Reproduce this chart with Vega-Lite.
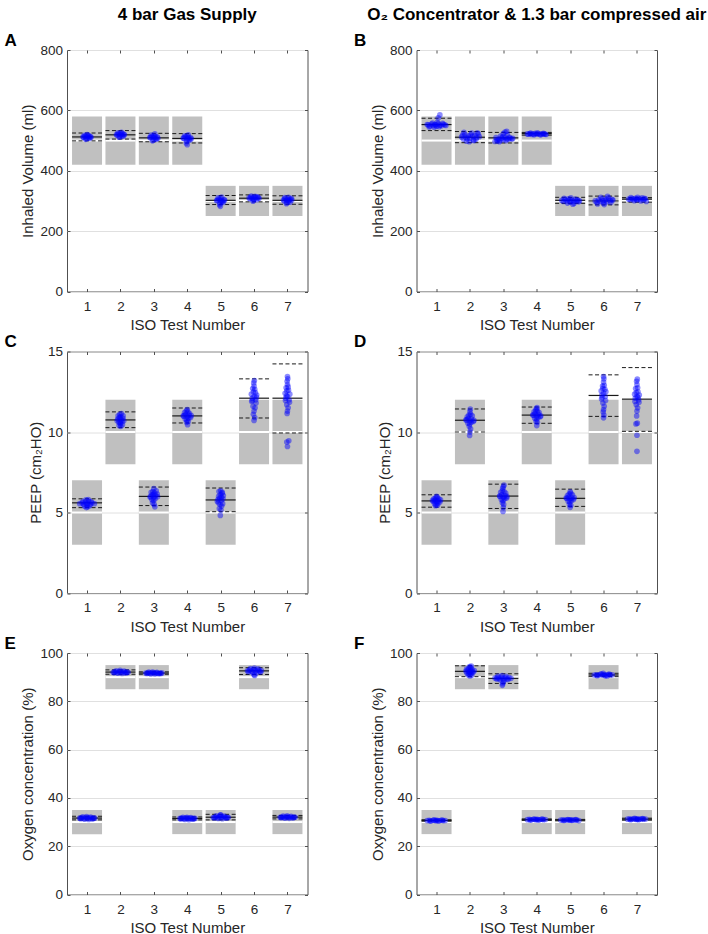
{
"$schema": "https://vega.github.io/schema/vega-lite/v6.json",
"padding": {"left": 3, "top": 5, "right": 0, "bottom": 4},
"background": "white",
"config": {
  "font": "Liberation Sans",
  "view": {"stroke": "#505050", "strokeWidth": 1},
  "axis": {"domain": false, "labelFont": "Liberation Sans", "labelFontSize": 13.5, "labelColor": "#262626", "titleFont": "Liberation Sans", "titleFontSize": 15, "titleFontWeight": "normal", "titleColor": "#262626", "tickColor": "#505050", "tickSize": -3, "gridColor": "#e0e0e0", "gridWidth": 1},
  "axisX": {"grid": false, "labelPadding": 10.5, "titlePadding": 5},
  "axisY": {"grid": true, "labelPadding": 7.5, "titlePadding": 4},
  "title": {"font": "Liberation Sans", "fontWeight": "bold", "color": "#000000"}
},
"datasets": {
  "sA": [
    {"k":"b","t":1,"y":420,"y2":580},{"k":"b","t":2,"y":420,"y2":580},{"k":"b","t":3,"y":420,"y2":580},{"k":"b","t":4,"y":420,"y2":580},{"k":"b","t":5,"y":250,"y2":350},{"k":"b","t":6,"y":250,"y2":350},{"k":"b","t":7,"y":250,"y2":350},
    {"k":"g","t":1,"y":500},{"k":"g","t":2,"y":500},{"k":"g","t":3,"y":500},{"k":"g","t":4,"y":500},{"k":"g","t":5,"y":300},{"k":"g","t":6,"y":300},{"k":"g","t":7,"y":300},
    {"k":"m","t":1,"y":512},{"k":"m","t":2,"y":519},{"k":"m","t":3,"y":509},{"k":"m","t":4,"y":507},{"k":"m","t":5,"y":302},{"k":"m","t":6,"y":309},{"k":"m","t":7,"y":302},
    {"k":"s","t":1,"y":525},{"k":"s","t":1,"y":499},{"k":"s","t":2,"y":533},{"k":"s","t":2,"y":505},{"k":"s","t":3,"y":524},{"k":"s","t":3,"y":496},{"k":"s","t":4,"y":523},{"k":"s","t":4,"y":492},{"k":"s","t":5,"y":318},{"k":"s","t":5,"y":288},{"k":"s","t":6,"y":320},{"k":"s","t":6,"y":297},{"k":"s","t":7,"y":317},{"k":"s","t":7,"y":289}
  ],
  "sB": [
    {"k":"b","t":1,"y":420,"y2":580},{"k":"b","t":2,"y":420,"y2":580},{"k":"b","t":3,"y":420,"y2":580},{"k":"b","t":4,"y":420,"y2":580},{"k":"b","t":5,"y":250,"y2":350},{"k":"b","t":6,"y":250,"y2":350},{"k":"b","t":7,"y":250,"y2":350},
    {"k":"g","t":1,"y":500},{"k":"g","t":2,"y":500},{"k":"g","t":3,"y":500},{"k":"g","t":4,"y":500},{"k":"g","t":5,"y":300},{"k":"g","t":6,"y":300},{"k":"g","t":7,"y":300},
    {"k":"m","t":1,"y":553},{"k":"m","t":2,"y":511},{"k":"m","t":3,"y":509},{"k":"m","t":4,"y":523},{"k":"m","t":5,"y":302},{"k":"m","t":6,"y":300},{"k":"m","t":7,"y":306},
    {"k":"s","t":1,"y":574},{"k":"s","t":1,"y":533},{"k":"s","t":2,"y":530},{"k":"s","t":2,"y":493},{"k":"s","t":3,"y":527},{"k":"s","t":3,"y":492},{"k":"s","t":4,"y":527},{"k":"s","t":4,"y":518},{"k":"s","t":5,"y":312},{"k":"s","t":5,"y":292},{"k":"s","t":6,"y":316},{"k":"s","t":6,"y":287},{"k":"s","t":7,"y":311},{"k":"s","t":7,"y":296}
  ],
  "sC": [
    {"k":"b","t":1,"y":3,"y2":7},{"k":"b","t":2,"y":8,"y2":12},{"k":"b","t":3,"y":3,"y2":7},{"k":"b","t":4,"y":8,"y2":12},{"k":"b","t":5,"y":3,"y2":7},{"k":"b","t":6,"y":8,"y2":12},{"k":"b","t":7,"y":8,"y2":12},
    {"k":"g","t":1,"y":5},{"k":"g","t":2,"y":10},{"k":"g","t":3,"y":5},{"k":"g","t":4,"y":10},{"k":"g","t":5,"y":5},{"k":"g","t":6,"y":10},{"k":"g","t":7,"y":10},
    {"k":"m","t":1,"y":5.6},{"k":"m","t":2,"y":10.75},{"k":"m","t":3,"y":6.0},{"k":"m","t":4,"y":11.0},{"k":"m","t":5,"y":5.78},{"k":"m","t":6,"y":12.1},{"k":"m","t":7,"y":12.1},
    {"k":"s","t":1,"y":5.85},{"k":"s","t":1,"y":5.3},{"k":"s","t":2,"y":11.25},{"k":"s","t":2,"y":10.27},{"k":"s","t":3,"y":6.58},{"k":"s","t":3,"y":5.43},{"k":"s","t":4,"y":11.49},{"k":"s","t":4,"y":10.56},{"k":"s","t":5,"y":6.52},{"k":"s","t":5,"y":5.05},{"k":"s","t":6,"y":13.3},{"k":"s","t":6,"y":10.87},{"k":"s","t":7,"y":14.23},{"k":"s","t":7,"y":9.94}
  ],
  "sD": [
    {"k":"b","t":1,"y":3,"y2":7},{"k":"b","t":2,"y":8,"y2":12},{"k":"b","t":3,"y":3,"y2":7},{"k":"b","t":4,"y":8,"y2":12},{"k":"b","t":5,"y":3,"y2":7},{"k":"b","t":6,"y":8,"y2":12},{"k":"b","t":7,"y":8,"y2":12},
    {"k":"g","t":1,"y":5},{"k":"g","t":2,"y":10},{"k":"g","t":3,"y":5},{"k":"g","t":4,"y":10},{"k":"g","t":5,"y":5},{"k":"g","t":6,"y":10},{"k":"g","t":7,"y":10},
    {"k":"m","t":1,"y":5.72},{"k":"m","t":2,"y":10.73},{"k":"m","t":3,"y":6.02},{"k":"m","t":4,"y":11.05},{"k":"m","t":5,"y":5.88},{"k":"m","t":6,"y":12.27},{"k":"m","t":7,"y":12.04},
    {"k":"s","t":1,"y":6.1},{"k":"s","t":1,"y":5.33},{"k":"s","t":2,"y":11.43},{"k":"s","t":2,"y":10.0},{"k":"s","t":3,"y":6.76},{"k":"s","t":3,"y":5.25},{"k":"s","t":4,"y":11.55},{"k":"s","t":4,"y":10.54},{"k":"s","t":5,"y":6.45},{"k":"s","t":5,"y":5.38},{"k":"s","t":6,"y":13.55},{"k":"s","t":6,"y":10.97},{"k":"s","t":7,"y":14.0},{"k":"s","t":7,"y":10.04}
  ],
  "sE": [
    {"k":"b","t":1,"y":25,"y2":35},{"k":"b","t":2,"y":85,"y2":95},{"k":"b","t":3,"y":85,"y2":95},{"k":"b","t":4,"y":25,"y2":35},{"k":"b","t":5,"y":25,"y2":35},{"k":"b","t":6,"y":85,"y2":95},{"k":"b","t":7,"y":25,"y2":35},
    {"k":"g","t":1,"y":30},{"k":"g","t":2,"y":90},{"k":"g","t":3,"y":90},{"k":"g","t":4,"y":30},{"k":"g","t":5,"y":30},{"k":"g","t":6,"y":90},{"k":"g","t":7,"y":30},
    {"k":"m","t":1,"y":31.65},{"k":"m","t":2,"y":92.1},{"k":"m","t":3,"y":91.7},{"k":"m","t":4,"y":31.5},{"k":"m","t":5,"y":32.0},{"k":"m","t":6,"y":92.6},{"k":"m","t":7,"y":32.05},
    {"k":"s","t":1,"y":32.4},{"k":"s","t":1,"y":30.9},{"k":"s","t":2,"y":93.0},{"k":"s","t":2,"y":91.2},{"k":"s","t":3,"y":92.2},{"k":"s","t":3,"y":91.2},{"k":"s","t":4,"y":32.1},{"k":"s","t":4,"y":30.9},{"k":"s","t":5,"y":33.2},{"k":"s","t":5,"y":30.9},{"k":"s","t":6,"y":93.9},{"k":"s","t":6,"y":91.1},{"k":"s","t":7,"y":32.75},{"k":"s","t":7,"y":31.3}
  ],
  "sF": [
    {"k":"b","t":1,"y":25,"y2":35},{"k":"b","t":2,"y":85,"y2":95},{"k":"b","t":3,"y":85,"y2":95},{"k":"b","t":4,"y":25,"y2":35},{"k":"b","t":5,"y":25,"y2":35},{"k":"b","t":6,"y":85,"y2":95},{"k":"b","t":7,"y":25,"y2":35},
    {"k":"g","t":1,"y":30},{"k":"g","t":2,"y":90},{"k":"g","t":3,"y":90},{"k":"g","t":4,"y":30},{"k":"g","t":5,"y":30},{"k":"g","t":6,"y":90},{"k":"g","t":7,"y":30},
    {"k":"m","t":1,"y":30.65},{"k":"m","t":2,"y":92.4},{"k":"m","t":3,"y":89.5},{"k":"m","t":4,"y":31.0},{"k":"m","t":5,"y":30.8},{"k":"m","t":6,"y":90.9},{"k":"m","t":7,"y":31.2},
    {"k":"s","t":1,"y":30.95},{"k":"s","t":1,"y":30.35},{"k":"s","t":2,"y":94.7},{"k":"s","t":2,"y":90.2},{"k":"s","t":3,"y":91.4},{"k":"s","t":3,"y":87.4},{"k":"s","t":4,"y":31.3},{"k":"s","t":4,"y":30.7},{"k":"s","t":5,"y":31.1},{"k":"s","t":5,"y":30.5},{"k":"s","t":6,"y":91.6},{"k":"s","t":6,"y":90.2},{"k":"s","t":7,"y":31.6},{"k":"s","t":7,"y":30.8}
  ],
  "pA": [
    {"t":0.9,"y":510},{"t":0.95,"y":514},{"t":1.0,"y":512},{"t":1.05,"y":509},{"t":1.1,"y":513},{"t":0.92,"y":517},{"t":0.98,"y":506},{"t":1.03,"y":518},{"t":1.08,"y":507},{"t":0.88,"y":512},{"t":1.12,"y":511},{"t":1.0,"y":520},{"t":0.96,"y":504},{"t":1.06,"y":515},
    {"t":1.9,"y":518},{"t":1.95,"y":522},{"t":2.0,"y":519},{"t":2.05,"y":516},{"t":2.1,"y":521},{"t":1.92,"y":526},{"t":1.98,"y":512},{"t":2.03,"y":527},{"t":2.08,"y":514},{"t":1.88,"y":520},{"t":2.12,"y":519},{"t":2.0,"y":524},{"t":1.96,"y":511},{"t":2.06,"y":523},
    {"t":2.9,"y":510},{"t":2.95,"y":514},{"t":3.0,"y":509},{"t":3.05,"y":506},{"t":3.1,"y":512},{"t":2.92,"y":518},{"t":2.98,"y":501},{"t":3.03,"y":522},{"t":3.08,"y":504},{"t":2.88,"y":510},{"t":3.12,"y":508},{"t":3.0,"y":516},{"t":2.96,"y":499},{"t":3.04,"y":512},
    {"t":3.9,"y":508},{"t":3.95,"y":512},{"t":4.0,"y":506},{"t":4.05,"y":503},{"t":4.1,"y":510},{"t":3.92,"y":516},{"t":3.98,"y":498},{"t":4.03,"y":519},{"t":4.08,"y":502},{"t":3.88,"y":508},{"t":4.12,"y":506},{"t":4.0,"y":514},{"t":3.97,"y":492},{"t":4.0,"y":486},{"t":4.04,"y":510},
    {"t":4.9,"y":302},{"t":4.95,"y":306},{"t":5.0,"y":300},{"t":5.05,"y":297},{"t":5.1,"y":304},{"t":4.92,"y":310},{"t":4.98,"y":292},{"t":5.03,"y":313},{"t":5.08,"y":295},{"t":4.88,"y":301},{"t":5.12,"y":303},{"t":5.0,"y":308},{"t":4.97,"y":287},{"t":4.99,"y":282},{"t":5.04,"y":300},
    {"t":5.85,"y":310},{"t":5.9,"y":313},{"t":5.95,"y":309},{"t":6.0,"y":306},{"t":6.05,"y":311},{"t":6.1,"y":314},{"t":6.15,"y":309},{"t":5.92,"y":316},{"t":5.98,"y":302},{"t":6.03,"y":315},{"t":6.08,"y":304},{"t":5.88,"y":307},{"t":6.12,"y":311},{"t":6.0,"y":312},{"t":5.97,"y":299},
    {"t":6.88,"y":304},{"t":6.93,"y":308},{"t":6.98,"y":302},{"t":7.03,"y":299},{"t":7.08,"y":306},{"t":7.13,"y":303},{"t":6.92,"y":311},{"t":6.98,"y":294},{"t":7.03,"y":312},{"t":7.08,"y":296},{"t":6.9,"y":300},{"t":7.12,"y":309},{"t":7.0,"y":305},{"t":6.97,"y":291},{"t":7.05,"y":302}
  ],
  "pB": [
    {"t":0.75,"y":552},{"t":0.8,"y":548},{"t":0.85,"y":555},{"t":0.9,"y":550},{"t":0.95,"y":553},{"t":1.0,"y":547},{"t":1.05,"y":556},{"t":1.1,"y":551},{"t":1.15,"y":549},{"t":1.2,"y":554},{"t":1.25,"y":552},{"t":0.78,"y":545},{"t":0.88,"y":558},{"t":0.98,"y":552},{"t":1.08,"y":546},{"t":1.18,"y":557},{"t":1.28,"y":550},{"t":0.72,"y":553},{"t":1.02,"y":560},{"t":1.05,"y":575},{"t":1.1,"y":585},{"t":0.93,"y":544},
    {"t":1.75,"y":512},{"t":1.8,"y":505},{"t":1.85,"y":520},{"t":1.9,"y":498},{"t":1.95,"y":515},{"t":2.0,"y":508},{"t":2.05,"y":525},{"t":2.1,"y":502},{"t":2.15,"y":517},{"t":2.2,"y":510},{"t":2.25,"y":522},{"t":1.78,"y":518},{"t":1.88,"y":510},{"t":1.98,"y":496},{"t":2.08,"y":514},{"t":2.18,"y":504},{"t":2.28,"y":513},{"t":1.82,"y":527},{"t":2.02,"y":519},{"t":2.12,"y":500},{"t":1.92,"y":507},{"t":2.22,"y":526},
    {"t":2.75,"y":497},{"t":2.8,"y":502},{"t":2.85,"y":505},{"t":2.9,"y":500},{"t":2.95,"y":508},{"t":3.0,"y":503},{"t":3.05,"y":510},{"t":3.1,"y":506},{"t":3.15,"y":504},{"t":3.2,"y":508},{"t":3.25,"y":505},{"t":2.78,"y":510},{"t":2.88,"y":496},{"t":2.98,"y":512},{"t":3.08,"y":500},{"t":3.18,"y":511},{"t":3.28,"y":507},{"t":3.0,"y":523},{"t":3.05,"y":528},{"t":3.1,"y":531},{"t":2.92,"y":515},{"t":3.12,"y":520},{"t":2.83,"y":499},
    {"t":3.75,"y":521},{"t":3.8,"y":523},{"t":3.85,"y":520},{"t":3.9,"y":522},{"t":3.95,"y":524},{"t":4.0,"y":521},{"t":4.05,"y":523},{"t":4.1,"y":520},{"t":4.15,"y":522},{"t":4.2,"y":524},{"t":4.25,"y":521},{"t":3.82,"y":525},{"t":3.92,"y":519},{"t":4.02,"y":526},{"t":4.12,"y":519},{"t":4.22,"y":522},{"t":4.28,"y":520},{"t":3.72,"y":522},
    {"t":4.75,"y":302},{"t":4.8,"y":298},{"t":4.85,"y":305},{"t":4.9,"y":300},{"t":4.95,"y":307},{"t":5.0,"y":296},{"t":5.05,"y":303},{"t":5.1,"y":299},{"t":5.15,"y":306},{"t":5.2,"y":301},{"t":5.25,"y":297},{"t":4.82,"y":309},{"t":4.92,"y":293},{"t":5.02,"y":310},{"t":5.12,"y":292},{"t":5.22,"y":304},{"t":5.28,"y":300},{"t":4.98,"y":302},{"t":5.08,"y":289},
    {"t":5.75,"y":300},{"t":5.8,"y":296},{"t":5.85,"y":304},{"t":5.9,"y":298},{"t":5.95,"y":307},{"t":6.0,"y":293},{"t":6.05,"y":302},{"t":6.1,"y":297},{"t":6.15,"y":310},{"t":6.2,"y":301},{"t":6.25,"y":305},{"t":5.82,"y":290},{"t":5.92,"y":312},{"t":6.02,"y":288},{"t":6.12,"y":315},{"t":6.22,"y":295},{"t":6.28,"y":303},{"t":5.98,"y":300},{"t":6.08,"y":306},
    {"t":6.75,"y":306},{"t":6.8,"y":304},{"t":6.85,"y":308},{"t":6.9,"y":305},{"t":6.95,"y":309},{"t":7.0,"y":303},{"t":7.05,"y":307},{"t":7.1,"y":305},{"t":7.15,"y":310},{"t":7.2,"y":304},{"t":7.25,"y":307},{"t":6.82,"y":311},{"t":6.92,"y":301},{"t":7.02,"y":312},{"t":7.12,"y":300},{"t":7.22,"y":309},{"t":7.28,"y":298},{"t":6.98,"y":306}
  ],
  "pC": [
    {"t":0.78,"y":5.55},{"t":0.85,"y":5.6},{"t":0.9,"y":5.5},{"t":0.95,"y":5.65},{"t":1.0,"y":5.55},{"t":1.05,"y":5.7},{"t":1.1,"y":5.5},{"t":1.15,"y":5.6},{"t":1.22,"y":5.55},{"t":0.92,"y":5.4},{"t":1.02,"y":5.35},{"t":1.08,"y":5.42},{"t":0.97,"y":5.78},{"t":1.04,"y":5.8},{"t":0.88,"y":5.7},{"t":1.12,"y":5.68},{"t":0.98,"y":5.3},{"t":1.0,"y":5.48},
    {"t":1.92,"y":10.8},{"t":1.97,"y":10.9},{"t":2.02,"y":10.75},{"t":2.07,"y":10.85},{"t":1.95,"y":10.6},{"t":2.0,"y":10.5},{"t":2.05,"y":10.65},{"t":1.93,"y":11.0},{"t":1.98,"y":11.1},{"t":2.03,"y":11.15},{"t":2.08,"y":11.0},{"t":1.96,"y":10.4},{"t":2.01,"y":10.35},{"t":2.06,"y":10.45},{"t":1.9,"y":10.7},{"t":2.1,"y":10.7},{"t":2.0,"y":10.95},{"t":1.99,"y":10.6},
    {"t":2.9,"y":6.0},{"t":2.95,"y":6.1},{"t":3.0,"y":5.95},{"t":3.05,"y":6.05},{"t":3.1,"y":6.15},{"t":2.92,"y":6.25},{"t":2.97,"y":6.3},{"t":3.02,"y":6.2},{"t":3.07,"y":6.35},{"t":2.94,"y":5.8},{"t":2.99,"y":5.75},{"t":3.04,"y":5.85},{"t":3.0,"y":6.48},{"t":2.96,"y":5.6},{"t":3.01,"y":5.5},{"t":3.03,"y":5.35},{"t":2.89,"y":5.95},{"t":3.11,"y":5.98},{"t":2.98,"y":6.12},
    {"t":3.9,"y":11.0},{"t":3.95,"y":11.1},{"t":4.0,"y":10.95},{"t":4.05,"y":11.05},{"t":4.1,"y":10.9},{"t":3.92,"y":11.2},{"t":3.97,"y":11.3},{"t":4.02,"y":11.25},{"t":4.07,"y":11.15},{"t":3.94,"y":10.8},{"t":3.99,"y":10.75},{"t":4.04,"y":10.85},{"t":4.0,"y":11.4},{"t":3.98,"y":10.6},{"t":4.01,"y":10.45},{"t":3.88,"y":11.0},{"t":4.12,"y":11.02},{"t":4.03,"y":10.65},
    {"t":4.92,"y":5.8},{"t":4.97,"y":5.9},{"t":5.02,"y":5.75},{"t":5.07,"y":5.85},{"t":4.94,"y":6.0},{"t":4.99,"y":6.1},{"t":5.04,"y":6.2},{"t":5.08,"y":6.05},{"t":4.95,"y":6.3},{"t":5.0,"y":6.35},{"t":5.05,"y":6.25},{"t":4.93,"y":5.6},{"t":4.98,"y":5.5},{"t":5.03,"y":5.4},{"t":5.06,"y":5.55},{"t":4.96,"y":5.25},{"t":5.01,"y":5.15},{"t":4.99,"y":4.82},{"t":5.02,"y":5.95},{"t":4.9,"y":5.7},
    {"t":5.95,"y":12.1},{"t":6.0,"y":12.2},{"t":6.05,"y":12.0},{"t":5.92,"y":12.35},{"t":5.98,"y":12.5},{"t":6.04,"y":12.45},{"t":6.08,"y":12.3},{"t":5.96,"y":12.7},{"t":6.02,"y":12.65},{"t":6.0,"y":12.85},{"t":5.99,"y":13.05},{"t":6.01,"y":13.2},{"t":5.93,"y":11.9},{"t":6.06,"y":11.8},{"t":5.97,"y":11.6},{"t":6.03,"y":11.5},{"t":6.0,"y":11.3},{"t":5.98,"y":11.1},{"t":6.02,"y":10.9},{"t":6.0,"y":10.72},{"t":5.95,"y":11.95},{"t":6.07,"y":12.15},
    {"t":6.95,"y":12.1},{"t":7.0,"y":12.2},{"t":7.05,"y":12.0},{"t":6.93,"y":12.4},{"t":6.98,"y":12.55},{"t":7.03,"y":12.6},{"t":7.07,"y":12.35},{"t":6.96,"y":12.75},{"t":7.02,"y":12.8},{"t":7.0,"y":12.95},{"t":6.99,"y":13.15},{"t":7.01,"y":13.3},{"t":7.0,"y":13.45},{"t":6.94,"y":11.95},{"t":7.06,"y":11.85},{"t":6.98,"y":11.7},{"t":7.02,"y":11.5},{"t":7.0,"y":11.3},{"t":6.99,"y":11.15},{"t":7.04,"y":9.45},{"t":6.98,"y":9.38},{"t":7.0,"y":9.1},{"t":6.97,"y":12.25}
  ],
  "pD": [
    {"t":0.9,"y":5.7},{"t":0.95,"y":5.75},{"t":1.0,"y":5.68},{"t":1.05,"y":5.72},{"t":1.1,"y":5.65},{"t":0.92,"y":5.85},{"t":0.97,"y":5.9},{"t":1.02,"y":5.95},{"t":1.07,"y":5.85},{"t":0.94,"y":5.55},{"t":0.99,"y":5.5},{"t":1.04,"y":5.58},{"t":1.0,"y":6.0},{"t":0.97,"y":5.42},{"t":1.03,"y":5.45},{"t":0.88,"y":5.75},{"t":1.12,"y":5.78},
    {"t":1.9,"y":10.75},{"t":1.95,"y":10.85},{"t":2.0,"y":10.7},{"t":2.05,"y":10.8},{"t":2.1,"y":10.65},{"t":1.92,"y":10.95},{"t":1.97,"y":11.05},{"t":2.02,"y":11.1},{"t":2.07,"y":11.0},{"t":1.94,"y":10.55},{"t":1.99,"y":10.5},{"t":2.04,"y":10.6},{"t":2.0,"y":11.25},{"t":2.01,"y":11.42},{"t":1.98,"y":10.35},{"t":2.02,"y":10.2},{"t":2.0,"y":10.0},{"t":1.99,"y":9.78},{"t":1.88,"y":10.75},{"t":2.12,"y":10.72},
    {"t":2.9,"y":6.0},{"t":2.95,"y":6.1},{"t":3.0,"y":5.95},{"t":3.05,"y":6.05},{"t":3.1,"y":5.9},{"t":2.92,"y":6.25},{"t":2.97,"y":6.35},{"t":3.02,"y":6.3},{"t":3.07,"y":6.2},{"t":2.98,"y":6.5},{"t":3.0,"y":6.6},{"t":3.02,"y":6.7},{"t":2.94,"y":5.8},{"t":2.99,"y":5.75},{"t":3.04,"y":5.85},{"t":2.97,"y":5.6},{"t":3.01,"y":5.5},{"t":3.0,"y":5.3},{"t":2.99,"y":5.06},{"t":2.89,"y":6.02},{"t":3.11,"y":6.0},
    {"t":3.9,"y":11.05},{"t":3.95,"y":11.15},{"t":4.0,"y":11.0},{"t":4.05,"y":11.1},{"t":4.1,"y":10.95},{"t":3.92,"y":11.25},{"t":3.97,"y":11.35},{"t":4.02,"y":11.3},{"t":4.07,"y":11.2},{"t":3.99,"y":11.45},{"t":4.01,"y":11.52},{"t":3.94,"y":10.85},{"t":3.99,"y":10.8},{"t":4.04,"y":10.9},{"t":3.98,"y":10.65},{"t":4.02,"y":10.6},{"t":4.0,"y":10.4},{"t":3.88,"y":11.05},{"t":4.12,"y":11.0},
    {"t":4.9,"y":5.88},{"t":4.95,"y":5.95},{"t":5.0,"y":5.85},{"t":5.05,"y":5.9},{"t":5.1,"y":5.8},{"t":4.92,"y":6.05},{"t":4.97,"y":6.15},{"t":5.02,"y":6.2},{"t":5.07,"y":6.1},{"t":5.0,"y":6.28},{"t":4.94,"y":5.7},{"t":4.99,"y":5.65},{"t":5.04,"y":5.75},{"t":4.98,"y":5.5},{"t":5.02,"y":5.45},{"t":5.0,"y":5.32},{"t":4.88,"y":5.9},{"t":5.12,"y":5.92},
    {"t":5.95,"y":12.3},{"t":6.0,"y":12.4},{"t":6.05,"y":12.2},{"t":5.93,"y":12.55},{"t":5.98,"y":12.7},{"t":6.04,"y":12.65},{"t":6.07,"y":12.5},{"t":5.97,"y":12.85},{"t":6.02,"y":12.9},{"t":6.0,"y":13.1},{"t":6.01,"y":13.3},{"t":6.0,"y":13.45},{"t":5.94,"y":12.05},{"t":6.06,"y":11.95},{"t":5.98,"y":11.8},{"t":6.02,"y":11.6},{"t":6.0,"y":11.4},{"t":5.99,"y":11.25},{"t":6.01,"y":11.05},{"t":6.0,"y":10.88},{"t":5.96,"y":12.15},
    {"t":6.95,"y":12.1},{"t":7.0,"y":12.2},{"t":7.05,"y":12.0},{"t":6.93,"y":12.35},{"t":6.98,"y":12.45},{"t":7.03,"y":12.5},{"t":7.07,"y":12.3},{"t":6.96,"y":12.7},{"t":7.02,"y":12.75},{"t":7.0,"y":12.95},{"t":6.99,"y":13.15},{"t":7.01,"y":13.28},{"t":6.94,"y":11.9},{"t":7.06,"y":11.85},{"t":6.98,"y":11.7},{"t":7.02,"y":11.5},{"t":7.0,"y":11.3},{"t":6.99,"y":11.0},{"t":7.01,"y":10.55},{"t":6.97,"y":10.5},{"t":7.0,"y":9.8},{"t":7.0,"y":8.8},{"t":7.03,"y":12.15}
  ],
  "pE": [
    {"t":0.78,"y":31.6},{"t":0.84,"y":31.8},{"t":0.9,"y":31.5},{"t":0.96,"y":31.9},{"t":1.02,"y":31.6},{"t":1.08,"y":31.8},{"t":1.14,"y":31.5},{"t":1.2,"y":31.7},{"t":0.87,"y":32.2},{"t":0.99,"y":32.3},{"t":1.11,"y":32.1},{"t":0.93,"y":31.2},{"t":1.05,"y":31.1},{"t":1.17,"y":31.3},{"t":0.81,"y":31.4},{"t":1.23,"y":31.6},
    {"t":1.78,"y":92.0},{"t":1.84,"y":92.2},{"t":1.9,"y":91.9},{"t":1.96,"y":92.3},{"t":2.02,"y":92.0},{"t":2.08,"y":92.2},{"t":2.14,"y":91.9},{"t":2.2,"y":92.1},{"t":1.87,"y":92.6},{"t":1.99,"y":92.8},{"t":2.11,"y":92.5},{"t":1.93,"y":91.6},{"t":2.05,"y":91.5},{"t":2.17,"y":91.7},{"t":1.81,"y":91.8},{"t":2.23,"y":92.0},
    {"t":2.76,"y":91.7},{"t":2.82,"y":91.8},{"t":2.88,"y":91.6},{"t":2.94,"y":91.9},{"t":3.0,"y":91.7},{"t":3.06,"y":91.8},{"t":3.12,"y":91.6},{"t":3.18,"y":91.7},{"t":3.24,"y":91.75},{"t":2.85,"y":92.05},{"t":2.97,"y":92.1},{"t":3.09,"y":92.0},{"t":2.91,"y":91.35},{"t":3.03,"y":91.3},{"t":3.15,"y":91.4},{"t":2.79,"y":91.5},{"t":3.21,"y":91.5},
    {"t":3.78,"y":31.5},{"t":3.84,"y":31.6},{"t":3.9,"y":31.4},{"t":3.96,"y":31.7},{"t":4.02,"y":31.5},{"t":4.08,"y":31.6},{"t":4.14,"y":31.4},{"t":4.2,"y":31.5},{"t":3.87,"y":31.95},{"t":3.99,"y":32.0},{"t":4.11,"y":31.9},{"t":3.93,"y":31.1},{"t":4.05,"y":31.0},{"t":4.17,"y":31.2},{"t":3.81,"y":31.3},{"t":4.23,"y":31.5},
    {"t":4.78,"y":31.9},{"t":4.84,"y":32.1},{"t":4.9,"y":31.8},{"t":4.96,"y":32.3},{"t":5.02,"y":32.0},{"t":5.08,"y":32.2},{"t":5.14,"y":31.9},{"t":5.2,"y":32.0},{"t":4.87,"y":32.6},{"t":4.99,"y":32.9},{"t":5.11,"y":32.5},{"t":4.93,"y":31.5},{"t":5.05,"y":31.4},{"t":5.17,"y":31.6},{"t":4.81,"y":31.7},{"t":5.23,"y":31.9},{"t":5.0,"y":33.0},
    {"t":5.8,"y":92.6},{"t":5.86,"y":92.9},{"t":5.92,"y":92.4},{"t":5.98,"y":93.1},{"t":6.04,"y":92.7},{"t":6.1,"y":92.9},{"t":6.16,"y":92.5},{"t":6.22,"y":92.7},{"t":5.89,"y":93.5},{"t":6.01,"y":93.8},{"t":6.13,"y":93.4},{"t":5.95,"y":91.9},{"t":6.07,"y":91.8},{"t":6.19,"y":92.1},{"t":5.83,"y":92.2},{"t":6.0,"y":91.0},{"t":6.02,"y":90.7},
    {"t":6.78,"y":32.0},{"t":6.84,"y":32.1},{"t":6.9,"y":31.9},{"t":6.96,"y":32.2},{"t":7.02,"y":32.0},{"t":7.08,"y":32.1},{"t":7.14,"y":31.9},{"t":7.2,"y":32.05},{"t":6.87,"y":32.45},{"t":6.99,"y":32.55},{"t":7.11,"y":32.4},{"t":6.93,"y":31.6},{"t":7.05,"y":31.55},{"t":7.17,"y":31.7},{"t":6.81,"y":31.8},{"t":7.23,"y":32.0}
  ],
  "pF": [
    {"t":0.72,"y":30.6},{"t":0.78,"y":30.7},{"t":0.84,"y":30.55},{"t":0.9,"y":30.75},{"t":0.96,"y":30.6},{"t":1.02,"y":30.7},{"t":1.08,"y":30.55},{"t":1.14,"y":30.75},{"t":1.2,"y":30.6},{"t":1.26,"y":30.65},{"t":0.81,"y":30.4},{"t":0.93,"y":30.9},{"t":1.05,"y":30.45},{"t":1.17,"y":30.85},{"t":0.99,"y":30.65},
    {"t":1.88,"y":92.4},{"t":1.93,"y":92.8},{"t":1.98,"y":92.2},{"t":2.03,"y":92.6},{"t":2.08,"y":92.3},{"t":2.13,"y":92.7},{"t":1.9,"y":93.3},{"t":1.96,"y":93.6},{"t":2.02,"y":93.9},{"t":2.06,"y":93.2},{"t":1.99,"y":94.4},{"t":2.04,"y":94.6},{"t":1.91,"y":91.7},{"t":1.97,"y":91.4},{"t":2.03,"y":91.6},{"t":2.09,"y":91.9},{"t":1.95,"y":90.9},{"t":2.0,"y":90.5},{"t":2.05,"y":90.8},{"t":2.0,"y":92.0},
    {"t":2.75,"y":89.6},{"t":2.81,"y":89.8},{"t":2.87,"y":89.4},{"t":2.93,"y":89.9},{"t":2.99,"y":89.5},{"t":3.05,"y":89.7},{"t":3.11,"y":89.3},{"t":3.17,"y":89.8},{"t":3.23,"y":89.5},{"t":2.84,"y":90.4},{"t":2.96,"y":90.6},{"t":3.08,"y":90.3},{"t":2.9,"y":88.9},{"t":3.02,"y":88.7},{"t":3.14,"y":89.0},{"t":3.0,"y":87.9},{"t":2.98,"y":87.3},{"t":2.97,"y":86.6},{"t":2.8,"y":89.2},
    {"t":3.72,"y":31.0},{"t":3.78,"y":31.1},{"t":3.84,"y":30.95},{"t":3.9,"y":31.15},{"t":3.96,"y":31.0},{"t":4.02,"y":31.1},{"t":4.08,"y":30.95},{"t":4.14,"y":31.15},{"t":4.2,"y":31.0},{"t":4.26,"y":31.05},{"t":3.81,"y":30.8},{"t":3.93,"y":31.25},{"t":4.05,"y":30.85},{"t":4.17,"y":31.2},{"t":3.99,"y":31.05},
    {"t":4.72,"y":30.8},{"t":4.78,"y":30.9},{"t":4.84,"y":30.75},{"t":4.9,"y":30.95},{"t":4.96,"y":30.8},{"t":5.02,"y":30.9},{"t":5.08,"y":30.75},{"t":5.14,"y":30.95},{"t":5.2,"y":30.8},{"t":5.26,"y":30.6},{"t":4.81,"y":30.65},{"t":4.93,"y":31.05},{"t":5.05,"y":30.7},{"t":5.17,"y":31.0},{"t":4.99,"y":30.85},
    {"t":5.72,"y":90.9},{"t":5.78,"y":91.0},{"t":5.84,"y":90.85},{"t":5.9,"y":91.05},{"t":5.96,"y":90.9},{"t":6.02,"y":91.0},{"t":6.08,"y":90.85},{"t":6.14,"y":91.1},{"t":6.2,"y":90.9},{"t":6.26,"y":90.95},{"t":5.81,"y":90.6},{"t":5.93,"y":91.4},{"t":6.05,"y":90.55},{"t":6.17,"y":91.3},{"t":5.99,"y":91.6},{"t":6.11,"y":90.5},
    {"t":6.72,"y":31.2},{"t":6.78,"y":31.3},{"t":6.84,"y":31.15},{"t":6.9,"y":31.35},{"t":6.96,"y":31.2},{"t":7.02,"y":31.3},{"t":7.08,"y":31.15},{"t":7.14,"y":31.35},{"t":7.2,"y":31.2},{"t":7.26,"y":31.25},{"t":6.81,"y":30.95},{"t":6.93,"y":31.5},{"t":7.05,"y":31.0},{"t":7.17,"y":31.45},{"t":6.99,"y":31.1}
  ]
},
"columns": 2,
"spacing": {"row": 59.5, "column": 108.5},
"bounds": "flush",
"concat": [
  {"width": 240.5, "height": 241.5,
   "title": {"text": "4 bar Gas Supply", "anchor": "middle", "frame": "group", "fontSize": 17, "baseline": "alphabetic", "offset": -6},
   "data": {"name": "sA"},
   "encoding": {
     "x": {"field": "t", "type": "quantitative", "scale": {"domain": [0.4, 7.6], "nice": false, "zero": false}, "axis": null},
     "y": {"field": "y", "type": "quantitative", "scale": {"domain": [0, 800], "nice": false, "zero": false}, "axis": null}
   },
   "resolve": {"axis": {"x": "independent", "y": "independent"}},
   "layer": [
     {"transform": [{"filter": "datum.k=='b'"}], "mark": {"type": "rect", "color": "#c0c0c0", "xOffset": -15, "x2Offset": 15},
      "encoding": {
        "x": {"field": "t", "type": "quantitative", "scale": {"domain": [0.4, 7.6], "nice": false, "zero": false}, "axis": {"title": "ISO Test Number", "values": [1,2,3,4,5,6,7]}},
        "y": {"field": "y", "type": "quantitative", "scale": {"domain": [0, 800], "nice": false, "zero": false}, "axis": {"title": "Inhaled Volume (ml)", "values": [0,200,400,600,800]}},
        "x2": {"field": "t"}, "y2": {"field": "y2"}}},
     {"transform": [{"filter": "datum.k=='g'"}], "mark": {"type": "rule", "color": "#ffffff", "strokeWidth": 2, "xOffset": -15, "x2Offset": 15},
      "encoding": {
        "x": {"field": "t", "type": "quantitative", "scale": {"domain": [0.4, 7.6], "nice": false, "zero": false}, "axis": {"orient": "top", "labels": false, "values": [1,2,3,4,5,6,7], "title": "A", "titleAnchor": "start", "titleAlign": "left", "titleAngle": 0, "titleX": -63, "titleY": -5, "titleBaseline": "alphabetic", "titleFontWeight": "bold", "titleFontSize": 17, "titleColor": "#000000"}},
        "y": {"field": "y", "type": "quantitative", "scale": {"domain": [0, 800], "nice": false, "zero": false}, "axis": {"orient": "right", "labels": false, "values": [0,200,400,600,800], "title": null, "grid": false}},
        "x2": {"field": "t"}}},
     {"transform": [{"filter": "datum.k=='m'"}], "mark": {"type": "rule", "color": "#1a1a1a", "strokeWidth": 1.2, "xOffset": -15, "x2Offset": 15}, "encoding": {"x2": {"field": "t"}}},
     {"transform": [{"filter": "datum.k=='s'"}], "mark": {"type": "rule", "color": "#1a1a1a", "strokeWidth": 1, "strokeDash": [4, 2.5], "xOffset": -15, "x2Offset": 15}, "encoding": {"x2": {"field": "t"}}},
     {"data": {"name": "pA"}, "mark": {"type": "circle", "color": "#0000ff", "opacity": 0.45, "size": 32}, "encoding": {}}
   ]},
  {"width": 240.5, "height": 241.5,
   "title": {"text": "O₂ Concentrator & 1.3 bar compressed air", "anchor": "middle", "frame": "group", "fontSize": 17, "baseline": "alphabetic", "offset": -6},
   "data": {"name": "sB"},
   "encoding": {
     "x": {"field": "t", "type": "quantitative", "scale": {"domain": [0.4, 7.6], "nice": false, "zero": false}, "axis": null},
     "y": {"field": "y", "type": "quantitative", "scale": {"domain": [0, 800], "nice": false, "zero": false}, "axis": null}
   },
   "resolve": {"axis": {"x": "independent", "y": "independent"}},
   "layer": [
     {"transform": [{"filter": "datum.k=='b'"}], "mark": {"type": "rect", "color": "#c0c0c0", "xOffset": -15, "x2Offset": 15},
      "encoding": {
        "x": {"field": "t", "type": "quantitative", "scale": {"domain": [0.4, 7.6], "nice": false, "zero": false}, "axis": {"title": "ISO Test Number", "values": [1,2,3,4,5,6,7]}},
        "y": {"field": "y", "type": "quantitative", "scale": {"domain": [0, 800], "nice": false, "zero": false}, "axis": {"title": "Inhaled Volume (ml)", "values": [0,200,400,600,800]}},
        "x2": {"field": "t"}, "y2": {"field": "y2"}}},
     {"transform": [{"filter": "datum.k=='g'"}], "mark": {"type": "rule", "color": "#ffffff", "strokeWidth": 2, "xOffset": -15, "x2Offset": 15},
      "encoding": {
        "x": {"field": "t", "type": "quantitative", "scale": {"domain": [0.4, 7.6], "nice": false, "zero": false}, "axis": {"orient": "top", "labels": false, "values": [1,2,3,4,5,6,7], "title": "B", "titleAnchor": "start", "titleAlign": "left", "titleAngle": 0, "titleX": -63, "titleY": -5, "titleBaseline": "alphabetic", "titleFontWeight": "bold", "titleFontSize": 17, "titleColor": "#000000"}},
        "y": {"field": "y", "type": "quantitative", "scale": {"domain": [0, 800], "nice": false, "zero": false}, "axis": {"orient": "right", "labels": false, "values": [0,200,400,600,800], "title": null, "grid": false}},
        "x2": {"field": "t"}}},
     {"transform": [{"filter": "datum.k=='m'"}], "mark": {"type": "rule", "color": "#1a1a1a", "strokeWidth": 1.2, "xOffset": -15, "x2Offset": 15}, "encoding": {"x2": {"field": "t"}}},
     {"transform": [{"filter": "datum.k=='s'"}], "mark": {"type": "rule", "color": "#1a1a1a", "strokeWidth": 1, "strokeDash": [4, 2.5], "xOffset": -15, "x2Offset": 15}, "encoding": {"x2": {"field": "t"}}},
     {"data": {"name": "pB"}, "mark": {"type": "circle", "color": "#0000ff", "opacity": 0.45, "size": 32}, "encoding": {}}
   ]},
  {"width": 240.5, "height": 241.5,
   "data": {"name": "sC"},
   "encoding": {
     "x": {"field": "t", "type": "quantitative", "scale": {"domain": [0.4, 7.6], "nice": false, "zero": false}, "axis": null},
     "y": {"field": "y", "type": "quantitative", "scale": {"domain": [0, 15], "nice": false, "zero": false}, "axis": null}
   },
   "resolve": {"axis": {"x": "independent", "y": "independent"}},
   "layer": [
     {"transform": [{"filter": "datum.k=='b'"}], "mark": {"type": "rect", "color": "#c0c0c0", "xOffset": -15, "x2Offset": 15},
      "encoding": {
        "x": {"field": "t", "type": "quantitative", "scale": {"domain": [0.4, 7.6], "nice": false, "zero": false}, "axis": {"title": "ISO Test Number", "values": [1,2,3,4,5,6,7]}},
        "y": {"field": "y", "type": "quantitative", "scale": {"domain": [0, 15], "nice": false, "zero": false}, "axis": {"title": "PEEP (cm₂HO)", "values": [0,5,10,15]}},
        "x2": {"field": "t"}, "y2": {"field": "y2"}}},
     {"transform": [{"filter": "datum.k=='g'"}], "mark": {"type": "rule", "color": "#ffffff", "strokeWidth": 2, "xOffset": -15, "x2Offset": 15},
      "encoding": {
        "x": {"field": "t", "type": "quantitative", "scale": {"domain": [0.4, 7.6], "nice": false, "zero": false}, "axis": {"orient": "top", "labels": false, "values": [1,2,3,4,5,6,7], "title": "C", "titleAnchor": "start", "titleAlign": "left", "titleAngle": 0, "titleX": -63, "titleY": -5, "titleBaseline": "alphabetic", "titleFontWeight": "bold", "titleFontSize": 17, "titleColor": "#000000"}},
        "y": {"field": "y", "type": "quantitative", "scale": {"domain": [0, 15], "nice": false, "zero": false}, "axis": {"orient": "right", "labels": false, "values": [0,5,10,15], "title": null, "grid": false}},
        "x2": {"field": "t"}}},
     {"transform": [{"filter": "datum.k=='m'"}], "mark": {"type": "rule", "color": "#1a1a1a", "strokeWidth": 1.2, "xOffset": -15, "x2Offset": 15}, "encoding": {"x2": {"field": "t"}}},
     {"transform": [{"filter": "datum.k=='s'"}], "mark": {"type": "rule", "color": "#1a1a1a", "strokeWidth": 1, "strokeDash": [4, 2.5], "xOffset": -15, "x2Offset": 15}, "encoding": {"x2": {"field": "t"}}},
     {"data": {"name": "pC"}, "mark": {"type": "circle", "color": "#0000ff", "opacity": 0.45, "size": 32}, "encoding": {}}
   ]},
  {"width": 240.5, "height": 241.5,
   "data": {"name": "sD"},
   "encoding": {
     "x": {"field": "t", "type": "quantitative", "scale": {"domain": [0.4, 7.6], "nice": false, "zero": false}, "axis": null},
     "y": {"field": "y", "type": "quantitative", "scale": {"domain": [0, 15], "nice": false, "zero": false}, "axis": null}
   },
   "resolve": {"axis": {"x": "independent", "y": "independent"}},
   "layer": [
     {"transform": [{"filter": "datum.k=='b'"}], "mark": {"type": "rect", "color": "#c0c0c0", "xOffset": -15, "x2Offset": 15},
      "encoding": {
        "x": {"field": "t", "type": "quantitative", "scale": {"domain": [0.4, 7.6], "nice": false, "zero": false}, "axis": {"title": "ISO Test Number", "values": [1,2,3,4,5,6,7]}},
        "y": {"field": "y", "type": "quantitative", "scale": {"domain": [0, 15], "nice": false, "zero": false}, "axis": {"title": "PEEP (cm₂HO)", "values": [0,5,10,15]}},
        "x2": {"field": "t"}, "y2": {"field": "y2"}}},
     {"transform": [{"filter": "datum.k=='g'"}], "mark": {"type": "rule", "color": "#ffffff", "strokeWidth": 2, "xOffset": -15, "x2Offset": 15},
      "encoding": {
        "x": {"field": "t", "type": "quantitative", "scale": {"domain": [0.4, 7.6], "nice": false, "zero": false}, "axis": {"orient": "top", "labels": false, "values": [1,2,3,4,5,6,7], "title": "D", "titleAnchor": "start", "titleAlign": "left", "titleAngle": 0, "titleX": -63, "titleY": -5, "titleBaseline": "alphabetic", "titleFontWeight": "bold", "titleFontSize": 17, "titleColor": "#000000"}},
        "y": {"field": "y", "type": "quantitative", "scale": {"domain": [0, 15], "nice": false, "zero": false}, "axis": {"orient": "right", "labels": false, "values": [0,5,10,15], "title": null, "grid": false}},
        "x2": {"field": "t"}}},
     {"transform": [{"filter": "datum.k=='m'"}], "mark": {"type": "rule", "color": "#1a1a1a", "strokeWidth": 1.2, "xOffset": -15, "x2Offset": 15}, "encoding": {"x2": {"field": "t"}}},
     {"transform": [{"filter": "datum.k=='s'"}], "mark": {"type": "rule", "color": "#1a1a1a", "strokeWidth": 1, "strokeDash": [4, 2.5], "xOffset": -15, "x2Offset": 15}, "encoding": {"x2": {"field": "t"}}},
     {"data": {"name": "pD"}, "mark": {"type": "circle", "color": "#0000ff", "opacity": 0.45, "size": 32}, "encoding": {}}
   ]},
  {"width": 240.5, "height": 241.5,
   "data": {"name": "sE"},
   "encoding": {
     "x": {"field": "t", "type": "quantitative", "scale": {"domain": [0.4, 7.6], "nice": false, "zero": false}, "axis": null},
     "y": {"field": "y", "type": "quantitative", "scale": {"domain": [0, 100], "nice": false, "zero": false}, "axis": null}
   },
   "resolve": {"axis": {"x": "independent", "y": "independent"}},
   "layer": [
     {"transform": [{"filter": "datum.k=='b'"}], "mark": {"type": "rect", "color": "#c0c0c0", "xOffset": -15, "x2Offset": 15},
      "encoding": {
        "x": {"field": "t", "type": "quantitative", "scale": {"domain": [0.4, 7.6], "nice": false, "zero": false}, "axis": {"title": "ISO Test Number", "values": [1,2,3,4,5,6,7]}},
        "y": {"field": "y", "type": "quantitative", "scale": {"domain": [0, 100], "nice": false, "zero": false}, "axis": {"title": "Oxygen concentration (%)", "values": [0,20,40,60,80,100]}},
        "x2": {"field": "t"}, "y2": {"field": "y2"}}},
     {"transform": [{"filter": "datum.k=='g'"}], "mark": {"type": "rule", "color": "#ffffff", "strokeWidth": 2, "xOffset": -15, "x2Offset": 15},
      "encoding": {
        "x": {"field": "t", "type": "quantitative", "scale": {"domain": [0.4, 7.6], "nice": false, "zero": false}, "axis": {"orient": "top", "labels": false, "values": [1,2,3,4,5,6,7], "title": "E", "titleAnchor": "start", "titleAlign": "left", "titleAngle": 0, "titleX": -63, "titleY": -5, "titleBaseline": "alphabetic", "titleFontWeight": "bold", "titleFontSize": 17, "titleColor": "#000000"}},
        "y": {"field": "y", "type": "quantitative", "scale": {"domain": [0, 100], "nice": false, "zero": false}, "axis": {"orient": "right", "labels": false, "values": [0,20,40,60,80,100], "title": null, "grid": false}},
        "x2": {"field": "t"}}},
     {"transform": [{"filter": "datum.k=='m'"}], "mark": {"type": "rule", "color": "#1a1a1a", "strokeWidth": 1.2, "xOffset": -15, "x2Offset": 15}, "encoding": {"x2": {"field": "t"}}},
     {"transform": [{"filter": "datum.k=='s'"}], "mark": {"type": "rule", "color": "#1a1a1a", "strokeWidth": 1, "strokeDash": [4, 2.5], "xOffset": -15, "x2Offset": 15}, "encoding": {"x2": {"field": "t"}}},
     {"data": {"name": "pE"}, "mark": {"type": "circle", "color": "#0000ff", "opacity": 0.45, "size": 32}, "encoding": {}}
   ]},
  {"width": 240.5, "height": 241.5,
   "data": {"name": "sF"},
   "encoding": {
     "x": {"field": "t", "type": "quantitative", "scale": {"domain": [0.4, 7.6], "nice": false, "zero": false}, "axis": null},
     "y": {"field": "y", "type": "quantitative", "scale": {"domain": [0, 100], "nice": false, "zero": false}, "axis": null}
   },
   "resolve": {"axis": {"x": "independent", "y": "independent"}},
   "layer": [
     {"transform": [{"filter": "datum.k=='b'"}], "mark": {"type": "rect", "color": "#c0c0c0", "xOffset": -15, "x2Offset": 15},
      "encoding": {
        "x": {"field": "t", "type": "quantitative", "scale": {"domain": [0.4, 7.6], "nice": false, "zero": false}, "axis": {"title": "ISO Test Number", "values": [1,2,3,4,5,6,7]}},
        "y": {"field": "y", "type": "quantitative", "scale": {"domain": [0, 100], "nice": false, "zero": false}, "axis": {"title": "Oxygen concentration (%)", "values": [0,20,40,60,80,100]}},
        "x2": {"field": "t"}, "y2": {"field": "y2"}}},
     {"transform": [{"filter": "datum.k=='g'"}], "mark": {"type": "rule", "color": "#ffffff", "strokeWidth": 2, "xOffset": -15, "x2Offset": 15},
      "encoding": {
        "x": {"field": "t", "type": "quantitative", "scale": {"domain": [0.4, 7.6], "nice": false, "zero": false}, "axis": {"orient": "top", "labels": false, "values": [1,2,3,4,5,6,7], "title": "F", "titleAnchor": "start", "titleAlign": "left", "titleAngle": 0, "titleX": -63, "titleY": -5, "titleBaseline": "alphabetic", "titleFontWeight": "bold", "titleFontSize": 17, "titleColor": "#000000"}},
        "y": {"field": "y", "type": "quantitative", "scale": {"domain": [0, 100], "nice": false, "zero": false}, "axis": {"orient": "right", "labels": false, "values": [0,20,40,60,80,100], "title": null, "grid": false}},
        "x2": {"field": "t"}}},
     {"transform": [{"filter": "datum.k=='m'"}], "mark": {"type": "rule", "color": "#1a1a1a", "strokeWidth": 1.2, "xOffset": -15, "x2Offset": 15}, "encoding": {"x2": {"field": "t"}}},
     {"transform": [{"filter": "datum.k=='s'"}], "mark": {"type": "rule", "color": "#1a1a1a", "strokeWidth": 1, "strokeDash": [4, 2.5], "xOffset": -15, "x2Offset": 15}, "encoding": {"x2": {"field": "t"}}},
     {"data": {"name": "pF"}, "mark": {"type": "circle", "color": "#0000ff", "opacity": 0.45, "size": 32}, "encoding": {}}
   ]}
]
}
